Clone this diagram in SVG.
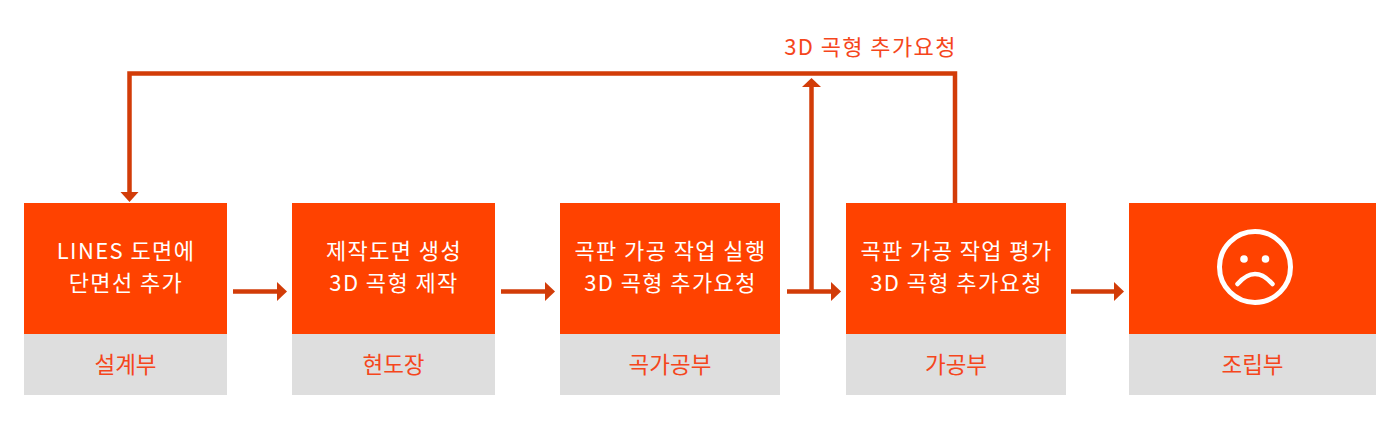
<svg xmlns="http://www.w3.org/2000/svg" width="1400" height="430" viewBox="0 0 1400 430">
<style>
.top{fill:#ff4200}
.bot{fill:#dedede}
.t{font-family:"Noto Sans CJK KR","Noto Sans",sans-serif;font-size:22px;letter-spacing:1.4px;fill:#ffffff;text-anchor:middle}
.l{font-family:"Noto Sans CJK KR","Noto Sans",sans-serif;font-size:22.5px;fill:#f5461c;text-anchor:middle}
.c{fill:none;stroke:#d23c08;stroke-width:4.5}
.h{fill:#d23c08}
</style>
<rect width="1400" height="430" fill="#ffffff"/>
<g id="connectors">
  <polyline class="c" points="955,203 955,73.5 129.5,73.5 129.5,193"/>
  <polygon class="h" points="120.5,192 138.5,192 129.5,202"/>
  <line class="c" x1="233" y1="291.5" x2="278" y2="291.5"/>
  <polygon class="h" points="277,282 287,291.5 277,301"/>
  <line class="c" x1="501" y1="291.5" x2="546" y2="291.5"/>
  <polygon class="h" points="545,282 555,291.5 545,301"/>
  <line class="c" x1="787" y1="291.5" x2="832" y2="291.5"/>
  <polygon class="h" points="831,282 841,291.5 831,301"/>
  <line class="c" x1="811.5" y1="291.5" x2="811.5" y2="86"/>
  <polygon class="h" points="802,87 821,87 811.5,78"/>
  <line class="c" x1="1071" y1="291.5" x2="1115" y2="291.5"/>
  <polygon class="h" points="1114,282 1124,291.5 1114,301"/>
  <text class="t" x="870.5" y="55" style="fill:#f5461c">3D 곡형 추가요청</text>
</g>
<g id="node1">
  <rect class="top" x="24" y="203" width="203" height="131"/>
  <rect class="bot" x="24" y="334" width="203" height="61"/>
  <text class="t" x="126" y="258.5">LINES 도면에</text>
  <text class="t" x="126" y="290.5">단면선 추가</text>
  <text class="l" x="125.5" y="373">설계부</text>
</g>
<g id="node2">
  <rect class="top" x="292" y="203" width="203" height="131"/>
  <rect class="bot" x="292" y="334" width="203" height="61"/>
  <text class="t" x="394" y="258.5">제작도면 생성</text>
  <text class="t" x="394" y="290.5">3D 곡형 제작</text>
  <text class="l" x="393.5" y="373">현도장</text>
</g>
<g id="node3">
  <rect class="top" x="560" y="203" width="220" height="131"/>
  <rect class="bot" x="560" y="334" width="220" height="61"/>
  <text class="t" x="670.5" y="258.5">곡판 가공 작업 실행</text>
  <text class="t" x="670.5" y="290.5">3D 곡형 추가요청</text>
  <text class="l" x="670" y="373">곡가공부</text>
</g>
<g id="node4">
  <rect class="top" x="846" y="203" width="220" height="131"/>
  <rect class="bot" x="846" y="334" width="220" height="61"/>
  <text class="t" x="956.5" y="258.5">곡판 가공 작업 평가</text>
  <text class="t" x="956.5" y="290.5">3D 곡형 추가요청</text>
  <text class="l" x="956" y="373">가공부</text>
</g>
<g id="node5">
  <rect class="top" x="1129" y="203" width="247" height="131"/>
  <rect class="bot" x="1129" y="334" width="247" height="61"/>
  <circle cx="1255" cy="267" r="35.5" fill="none" stroke="#ffffff" stroke-width="5"/>
  <circle cx="1244" cy="259" r="3.8" fill="#ffffff"/>
  <circle cx="1265.5" cy="259" r="3.8" fill="#ffffff"/>
  <path d="M1237.5,284 Q1255,264 1272.5,284" fill="none" stroke="#ffffff" stroke-width="4.5" stroke-linecap="round"/>
  <text class="l" x="1252.5" y="373">조립부</text>
</g>
</svg>
